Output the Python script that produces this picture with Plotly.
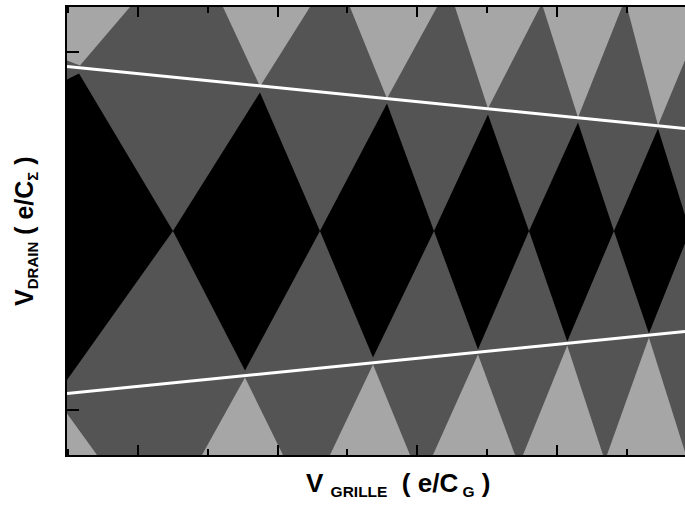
import plotly.graph_objects as go

# ---- data (axis units: x in e/C_G, y in e/C_Sigma) ----
# Black Coulomb-blockade diamonds: left / right vertices sit on V_drain = 0
diamond_left_x = [-5.3, 0.501, 2.607, 4.241, 5.602, 6.819]
diamond_right_x = [0.501, 2.607, 4.241, 5.602, 6.819, 7.908]
diamond_top_x = [-0.845, 1.748, 3.567, 5.014, 6.304, 7.45]
diamond_top_y = [1.758, 1.546, 1.423, 1.300, 1.211, 1.144]
diamond_bot_x = [-1.05, 1.533, 3.367, 4.871, 6.15, 7.32]
diamond_bot_y = [-1.70, -1.557, -1.412, -1.323, -1.233, -1.144]

# Light-grey triangles at the top (tip pointing down) and bottom (tip pointing up)
top_tri_tip_x = [-0.831, 1.748, 3.567, 5.014, 6.304, 7.45]
top_tri_tip_y = [1.847, 1.613, 1.479, 1.367, 1.267, 1.177]
top_tri_left_x = [-3.0, 1.218, 3.037, 4.542, 5.802, 7.006]
top_tri_right_x = [-0.115, 2.464, 4.284, 5.759, 6.934, 8.152]

bot_tri_tip_x = [-1.06, 1.533, 3.367, 4.871, 6.15, 7.32]
bot_tri_tip_y = [-1.992, -1.635, -1.490, -1.378, -1.278, -1.189]
bot_tri_left_x = [-1.40, 0.917, 2.751, 4.226, 5.516, 6.719]
bot_tri_right_x = [-0.587, 2.077, 3.897, 5.401, 6.662, 7.851]

# White straight lines
line_x = [-1.017, 7.837]
upper_line_y = [1.836, 1.144]
lower_line_y = [-1.814, -1.122]

x_range = [-1.017, 7.837]
y_range = [-2.5, 2.5]

DARK = "#545454"
LIGHT = "#a6a6a6"
BLACK = "#000000"

fig = go.Figure()

# light grey triangles (top)
for tx, ty, lx, rx in zip(top_tri_tip_x, top_tri_tip_y, top_tri_left_x, top_tri_right_x):
    fig.add_trace(go.Scatter(x=[lx, tx, rx, lx], y=[y_range[1], ty, y_range[1], y_range[1]],
                             mode="none", fill="toself", fillcolor=LIGHT,
                             hoverinfo="skip", showlegend=False))
# light grey triangles (bottom)
for tx, ty, lx, rx in zip(bot_tri_tip_x, bot_tri_tip_y, bot_tri_left_x, bot_tri_right_x):
    fig.add_trace(go.Scatter(x=[lx, tx, rx, lx], y=[y_range[0], ty, y_range[0], y_range[0]],
                             mode="none", fill="toself", fillcolor=LIGHT,
                             hoverinfo="skip", showlegend=False))
# black diamonds
for lx, rx, tx, ty, bx, by in zip(diamond_left_x, diamond_right_x, diamond_top_x,
                                  diamond_top_y, diamond_bot_x, diamond_bot_y):
    fig.add_trace(go.Scatter(x=[lx, tx, rx, bx, lx], y=[0, ty, 0, by, 0],
                             mode="none", fill="toself", fillcolor=BLACK,
                             hoverinfo="skip", showlegend=False))
# white lines
for ly in (upper_line_y, lower_line_y):
    fig.add_trace(go.Scatter(x=line_x, y=ly, mode="lines",
                             line=dict(color="white", width=3),
                             hoverinfo="skip", showlegend=False))

FONT = "Liberation Sans, Arial, sans-serif"

x_title = ("<b>V&nbsp;<sub><span style='font-size:15.5px'>GRILLE</span></sub>&nbsp;&nbsp;(&nbsp;e/C"
           "<sub><span style='font-size:15.5px'>&nbsp;G</span></sub>&nbsp;)</b>")
y_title = ("<b>V<sub><span style='font-size:15px'>DRAIN</span></sub> ( e/C"
           "<sub><span style='font-size:15px'>Σ</span></sub> )</b>")

fig.update_layout(
    width=685, height=506,
    margin=dict(l=67, r=0, t=7, b=51),
    paper_bgcolor="white",
    plot_bgcolor=DARK,
    font=dict(family=FONT, color="black"),
    xaxis=dict(range=x_range, showgrid=False, zeroline=False, showticklabels=False,
               showline=True, linecolor="black", linewidth=2, mirror="allticks",
               ticks="inside", tick0=0, dtick=2, ticklen=10, tickwidth=2, tickcolor="black",
               minor=dict(ticks="inside", tick0=0, dtick=1, ticklen=6, tickwidth=2,
                          tickcolor="black", showgrid=False)),
    yaxis=dict(range=y_range, showgrid=False, zeroline=False, showticklabels=False,
               showline=True, linecolor="black", linewidth=2, mirror=False,
               ticks="inside", tick0=0, dtick=2, ticklen=12, tickwidth=2, tickcolor="black",
               minor=dict(ticks="inside", tick0=0, dtick=1, ticklen=6, tickwidth=2,
                          tickcolor="black", showgrid=False)),
    annotations=[
        dict(text=x_title, xref="paper", yref="paper", x=0.536, y=-0.065,
             xanchor="center", yanchor="middle", showarrow=False,
             font=dict(family=FONT, size=26, color="black")),
        dict(text=y_title, xref="paper", yref="paper", x=-0.068, y=0.5,
             xanchor="center", yanchor="middle", textangle=-90, showarrow=False,
             font=dict(family=FONT, size=25, color="black")),
    ],
)

fig.write_html("out.html", config={"displayModeBar": False},
               post_script="document.body.style.margin='0';document.body.style.overflow='hidden';")
